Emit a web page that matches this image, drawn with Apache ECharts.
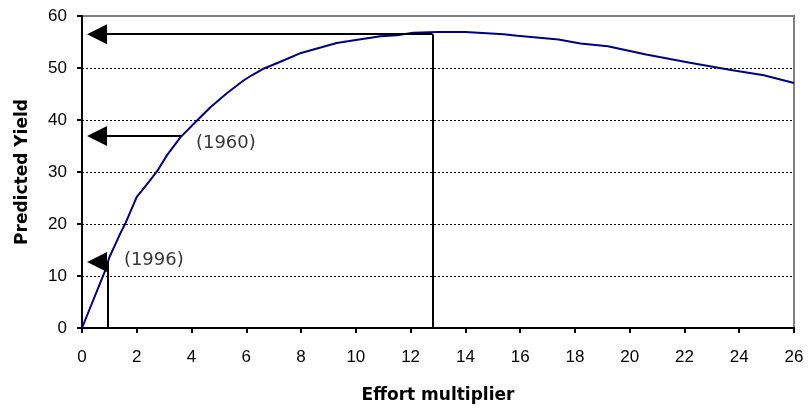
<!DOCTYPE html>
<html>
<head>
<meta charset="utf-8">
<script src="https://cdn.jsdelivr.net/npm/echarts@6/dist/echarts.min.js"></script>
<style>
  html, body { margin: 0; padding: 0; background: #fff; }
  #chart { width: 809px; height: 412px; }
</style>
</head>
<body>
<div id="chart"></div>
<script>
// curve
var effort = [0, 0.85, 1.0, 1.2, 1.4, 1.6, 2.0, 2.4, 2.75, 3.1, 3.6, 4.2, 4.7, 5.3, 5.9, 6.2, 6.6, 7.2, 8.0, 9.3, 10.0, 10.9, 11.5, 12.1, 13.0, 14.0, 15.4, 15.9, 17.4, 18.2, 19.2, 20.6, 22.2, 23.7, 24.9, 26.0];
var predicted = [0, 11.1, 13.6, 15.9, 18.2, 20.3, 25.2, 27.8, 30.2, 33.2, 36.7, 39.9, 42.5, 45.2, 47.6, 48.6, 49.8, 51.1, 52.9, 54.8, 55.4, 56.1, 56.3, 56.8, 56.9, 56.9, 56.5, 56.2, 55.5, 54.7, 54.2, 52.6, 51.0, 49.6, 48.6, 47.1];

// arrows: [fromX, y] pointing left to arrowTipX; drop lines at [x, y]
var arrowTipX = 0.55;
var arrowFromX = [12.8, 3.65, 0.94];
var arrowY = [56.5, 36.9, 12.7];
var dropX = [12.8, 0.94];
var dropY = [56.5, 12.7];

// annotation texts
var noteText = ['(1960)', '(1996)'];
var noteX = [4.16, 1.53];
var noteY = [35.5, 13.0];

var xTicks = { min: 0, max: 26, step: 2 };
var yTicks = { min: 0, max: 60, step: 10 };

var chart = echarts.init(document.getElementById('chart'), null, { renderer: 'canvas' });

var lines = [];
arrowFromX.forEach(function (x, i) {
  lines.push([
    { coord: [x, arrowY[i]], symbol: 'none' },
    { coord: [arrowTipX, arrowY[i]], symbol: 'triangle', symbolSize: 20 }
  ]);
});
dropX.forEach(function (x, i) {
  lines.push([
    { coord: [x, 0], symbol: 'none' },
    { coord: [x, dropY[i]], symbol: 'none' }
  ]);
});

var option = {
  animation: false,
  backgroundColor: '#fff',
  grid: {
    left: 82, right: 15, top: 16, bottom: 84,
    show: true,
    borderColor: '#808080',
    borderWidth: 2
  },
  xAxis: {
    type: 'value',
    min: xTicks.min, max: xTicks.max, interval: xTicks.step,
    name: 'Effort multiplier',
    nameLocation: 'middle',
    nameGap: 59,
    nameTextStyle: { fontFamily: 'DejaVu Sans', fontWeight: 'bold', fontSize: 17, color: '#000' },
    axisLine: { lineStyle: { color: '#000', width: 2 } },
    axisTick: { show: true, length: 5, lineStyle: { color: '#000', width: 2 } },
    axisLabel: { color: '#000', fontSize: 17, fontFamily: 'Liberation Sans', margin: 21 },
    splitLine: { show: false }
  },
  yAxis: {
    type: 'value',
    min: yTicks.min, max: yTicks.max, interval: yTicks.step,
    name: 'Predicted Yield',
    nameLocation: 'middle',
    nameGap: 51,
    nameTextStyle: { fontFamily: 'DejaVu Sans', fontWeight: 'bold', fontSize: 17, color: '#000' },
    axisLine: { show: true, lineStyle: { color: '#000', width: 2 } },
    axisTick: { show: true, length: 5, lineStyle: { color: '#000', width: 2 } },
    axisLabel: { color: '#000', fontSize: 17, fontFamily: 'Liberation Sans', margin: 15 },
    splitLine: {
      show: true,
      showMaxLine: false,
      lineStyle: { color: '#000', width: 1, type: [2, 2] }
    }
  },
  series: [
    {
      name: 'Predicted',
      type: 'line',
      data: effort.map(function (x, i) { return [x, predicted[i]]; }),
      showSymbol: false,
      symbol: 'none',
      lineStyle: { color: '#000080', width: 2 },
      z: 3
    },
    {
      name: 'arrows',
      type: 'line',
      data: [],
      markLine: {
        silent: true,
        animation: false,
        label: { show: false },
        lineStyle: { color: '#000', width: 2, type: 'solid' },
        itemStyle: { color: '#000' },
        data: lines
      },
      z: 2
    },
    {
      name: 'notes',
      type: 'scatter',
      symbolSize: 0,
      silent: true,
      data: noteText.map(function (t, i) { return [noteX[i], noteY[i], t]; }),
      label: {
        show: true,
        position: 'right',
        distance: 0,
        formatter: function (p) { return p.value[2]; },
        fontFamily: 'DejaVu Sans',
        fontSize: 18,
        color: '#000'
      }
    }
  ]
};

chart.setOption(option);
</script>
</body>
</html>
